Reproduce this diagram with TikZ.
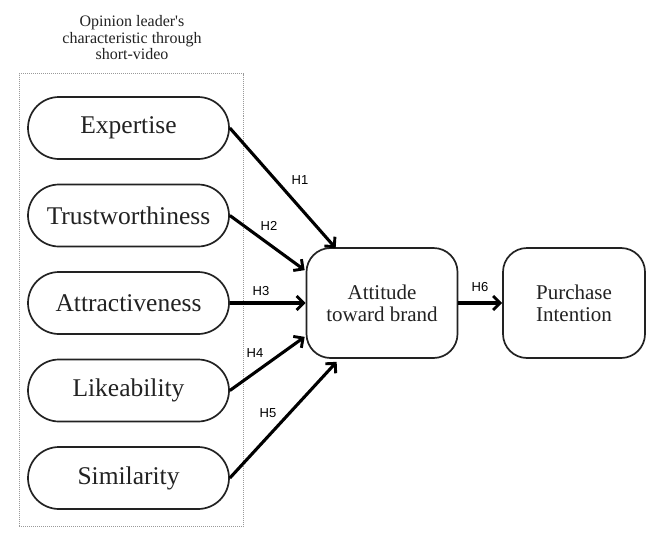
\documentclass[tikz,border=0pt]{standalone}
\usepackage{fontspec}
\setmainfont{Liberation Serif}
\newfontfamily\plainserif{Liberation Serif}
\newfontfamily\labelfont{Liberation Sans}
\usetikzlibrary{calc,arrows.meta}
\definecolor{ink}{HTML}{222222}
\definecolor{frame}{HTML}{9A9A9A}
\tikzset{
  trait/.style={draw=ink, line width=1.7pt, rectangle, rounded corners=31pt,
    minimum width=201pt, minimum height=62pt, text=ink,
    font=\fontsize{25.5}{28}\selectfont},
  construct/.style={draw=ink, line width=1.7pt, rectangle, rounded corners=24pt,
    minimum height=110pt, text=ink, align=center,
    font=\fontsize{21}{22}\selectfont},
  path arrow/.style={draw=black, line width=3.1pt,
    -{Straight Barb[length=7pt,width=14pt,line width=2.9pt]}},
  hyp/.style={text=black, font=\labelfont\fontsize{13}{15}\selectfont, inner sep=0pt},
  group frame/.style={draw=frame, densely dotted, line width=1pt}
}
\begin{document}
\begin{tikzpicture}[x=1pt,y=-1pt]
  \useasboundingbox (0,0) rectangle (647,538);
  \fill[white] (0,0) rectangle (647,538);

  % group of opinion-leader characteristics
  \node[group frame, minimum width=224pt, minimum height=453pt, inner sep=0pt] (frame) at (131,300) {};
  \node[text=ink, align=center, font=\plainserif\fontsize{16}{16.5}\selectfont, inner sep=0pt] (title) at (132,38)
    {Opinion leader's\\characteristic through\\short-video};

  % independent variables
  \node[trait] (exp) at (128.5,128) {Expertise};
  \node[trait] (tru) at (128.5,215.5) {Trustworthiness};
  \node[trait] (att) at (128.5,303) {Attractiveness};
  \node[trait] (lik) at (128.5,390.5) {Likeability};
  \node[trait] (sim) at (128.5,478) {Similarity};

  % mediator and outcome
  \node[construct, minimum width=151pt] (brand) at (382,303) {Attitude\\toward brand};
  \node[construct, minimum width=142pt] (pi) at (574,303) {Purchase\\Intention};

  % hypothesised paths
  \draw[path arrow] (exp.east) -- ($(brand.north west)+(30,1)$);
  \draw[path arrow] (tru.east) -- ($(brand.north west)+(-1,23)$);
  \draw[path arrow] (att.east) -- (brand.west);
  \draw[path arrow] (lik.east) -- ($(brand.south west)+(-1,-22)$);
  \draw[path arrow] (sim.east) -- ($(brand.south west)+(31,3)$);
  \draw[path arrow] (brand.east) -- (pi.west);

  \node[hyp] (h1) at (300,180) {H1};
  \node[hyp] (h2) at (269,226) {H2};
  \node[hyp] (h3) at (261,291) {H3};
  \node[hyp] (h4) at (255,353) {H4};
  \node[hyp] (h5) at (268,413) {H5};
  \node[hyp] (h6) at (480,287) {H6};
\end{tikzpicture}
\end{document}
